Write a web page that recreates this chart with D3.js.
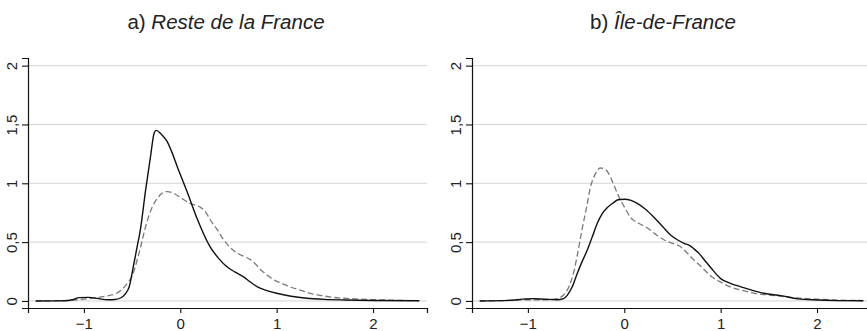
<!DOCTYPE html>
<html>
  <head>
    <meta charset="utf-8">
    <title>Densites</title>
    <script type="text/javascript" src="https://d3js.org/d3.v7.min.js"></script>
    <style type="text/css">
      body { margin: 0; background: white; }
      svg text { font-family: "Liberation Sans", Arial, Helvetica, sans-serif; fill: #222; }
    </style>
  </head>
  <body>
    <script type="text/javascript">
    // x positions and density values
    var leftSolidX = [-1.5, -1.2, -1.12, -1.05, -0.95, -0.85, -0.75, -0.68, -0.62, -0.57, -0.53, -0.49, -0.45, -0.415, -0.36, -0.31, -0.27, -0.25, -0.2, -0.14, -0.08, -0.035, 0.07, 0.17, 0.31, 0.4, 0.485, 0.57, 0.657, 0.72, 0.8, 0.9, 1.0, 1.15, 1.31, 1.5, 1.71, 2.0, 2.48];
    var leftSolidY = [0, 0.002, 0.01, 0.028, 0.03, 0.02, 0.01, 0.012, 0.025, 0.06, 0.12, 0.28, 0.45, 0.6, 0.94, 1.22, 1.43, 1.45, 1.42, 1.36, 1.25, 1.15, 0.93, 0.71, 0.46, 0.36, 0.29, 0.245, 0.205, 0.165, 0.12, 0.088, 0.065, 0.04, 0.023, 0.013, 0.008, 0.004, 0.001];

    var leftDashX = [-1.5, -1.2, -1.1, -1.0, -0.9, -0.83, -0.73, -0.66, -0.59, -0.55, -0.5, -0.43, -0.35, -0.29, -0.24, -0.19, -0.14, -0.08, 0.0, 0.1, 0.2, 0.26, 0.31, 0.38, 0.45, 0.55, 0.63, 0.7, 0.76, 0.83, 0.9, 0.97, 1.05, 1.14, 1.25, 1.35, 1.47, 1.59, 1.75, 2.0, 2.2, 2.48];
    var leftDashY = [0, 0.003, 0.008, 0.015, 0.025, 0.033, 0.048, 0.065, 0.11, 0.15, 0.21, 0.4, 0.66, 0.8, 0.87, 0.915, 0.93, 0.92, 0.88, 0.83, 0.8, 0.76, 0.69, 0.61, 0.52, 0.43, 0.39, 0.365, 0.33, 0.27, 0.22, 0.18, 0.15, 0.12, 0.09, 0.065, 0.045, 0.03, 0.02, 0.012, 0.006, 0.002];

    var rightSolidX = [-1.5, -1.2, -1.05, -0.94, -0.82, -0.7, -0.63, -0.59, -0.54, -0.49, -0.44, -0.385, -0.33, -0.28, -0.23, -0.18, -0.12, -0.066, 0.0, 0.07, 0.135, 0.22, 0.31, 0.4, 0.48, 0.55, 0.62, 0.68, 0.72, 0.78, 0.83, 0.9, 1.0, 1.1, 1.21, 1.33, 1.45, 1.625, 1.8, 2.0, 2.2, 2.48];
    var rightSolidY = [0, 0.005, 0.015, 0.02, 0.015, 0.01, 0.02, 0.05, 0.12, 0.23, 0.33, 0.43, 0.55, 0.66, 0.74, 0.79, 0.83, 0.86, 0.865, 0.855, 0.83, 0.78, 0.71, 0.63, 0.56, 0.52, 0.49, 0.47, 0.445, 0.4, 0.35, 0.28, 0.19, 0.15, 0.12, 0.09, 0.065, 0.045, 0.018, 0.008, 0.003, 0.001];

    var rightDashX = [-1.5, -1.2, -1.0, -0.8, -0.7, -0.63, -0.57, -0.52, -0.48, -0.44, -0.39, -0.35, -0.3, -0.25, -0.2, -0.16, -0.11, -0.07, 0.0, 0.065, 0.15, 0.24, 0.32, 0.41, 0.5, 0.585, 0.65, 0.72, 0.8, 0.9, 1.0, 1.1, 1.22, 1.35, 1.5, 1.62, 1.8, 2.0, 2.2, 2.48];
    var rightDashY = [0, 0.004, 0.01, 0.01, 0.02, 0.05, 0.13, 0.26, 0.42, 0.6, 0.8, 0.97, 1.08, 1.13, 1.12, 1.08, 0.99, 0.91, 0.8, 0.71, 0.66, 0.62, 0.57, 0.52, 0.49, 0.46, 0.41, 0.35, 0.29, 0.21, 0.16, 0.12, 0.09, 0.065, 0.05, 0.04, 0.025, 0.015, 0.008, 0.003];

    var xTicks = [-1, 0, 1, 2];
    var yTicks = [0, 0.5, 1, 1.5, 2];
    var yTickLabels = ["0", "0,5", "1", "1,5", "2"];

    var panels = [
      {prefix: "a) ", name: "Reste de la France", left: 28, titleX: 226,
       solidX: leftSolidX, solidY: leftSolidY, dashX: leftDashX, dashY: leftDashY},
      {prefix: "b) ", name: "Île-de-France", left: 472, titleX: 663,
       solidX: rightSolidX, solidY: rightSolidY, dashX: rightDashX, dashY: rightDashY}
    ];

    var width = 867;
    var height = 331;
    var plotWidth = 399;

    var svg = d3.select("body")
                .append("svg")
                .attr("width", width)
                .attr("height", height);

    // y scale shared by both panels
    var yScale = d3.scaleLinear()
                   .domain([-0.06, 2.065])
                   .range([308, 58]);

    panels.forEach(function(p) {
      var xScale = d3.scaleLinear()
                     .domain([-1.58, 2.56])
                     .range([p.left, p.left + plotWidth]);

      var g = svg.append("g");

      // horizontal grid lines
      g.selectAll("line.grid")
       .data(yTicks)
       .enter()
       .append("line")
       .attr("class", "grid")
       .attr("x1", p.left)
       .attr("x2", p.left + plotWidth)
       .attr("y1", function(d) { return yScale(d); })
       .attr("y2", function(d) { return yScale(d); })
       .attr("stroke", "#d4d4d4")
       .attr("stroke-width", 1);

      // y axis with rotated labels
      var yAxis = d3.axisLeft(yScale)
                    .tickValues(yTicks)
                    .tickSize(6)
                    .tickFormat(function(d, i) { return yTickLabels[i]; });
      var ya = g.append("g")
                .attr("transform", "translate(" + p.left + ",0)")
                .call(yAxis);
      ya.select(".domain").attr("stroke", "#111").attr("stroke-width", 1.2);
      ya.selectAll(".tick line").attr("stroke", "#111").attr("stroke-width", 1.1);
      ya.selectAll("text")
        .attr("x", 0)
        .attr("y", -11)
        .attr("dy", 0)
        .attr("transform", "rotate(-90)")
        .style("text-anchor", "middle")
        .style("font-size", "15px")
        .style("font-family", "'Liberation Sans', Arial, sans-serif")
        .attr("fill", "#222");

      // x axis
      var xAxis = d3.axisBottom(xScale)
                    .tickValues(xTicks)
                    .tickSize(5)
                    .tickPadding(5)
                    .tickFormat(function(d) { return d < 0 ? "\u2212" + Math.abs(d) : d; });
      var xa = g.append("g")
                .attr("transform", "translate(0,308)")
                .call(xAxis);
      xa.select(".domain").attr("stroke", "#111").attr("stroke-width", 1.2);
      xa.selectAll(".tick line").attr("stroke", "#111").attr("stroke-width", 1.1);
      xa.selectAll("text")
        .style("font-size", "15px")
        .style("font-family", "'Liberation Sans', Arial, sans-serif")
        .attr("fill", "#222");

      // density curves
      var line = d3.line()
                   .x(function(d) { return xScale(d[0]); })
                   .y(function(d) { return yScale(d[1]); })
                   .curve(d3.curveMonotoneX);

      g.append("path")
       .datum(d3.zip(p.dashX, p.dashY))
       .attr("d", line)
       .attr("fill", "none")
       .attr("stroke", "#7a7a7a")
       .attr("stroke-width", 1.3)
       .attr("stroke-dasharray", "6,3");

      g.append("path")
       .datum(d3.zip(p.solidX, p.solidY))
       .attr("d", line)
       .attr("fill", "none")
       .attr("stroke", "#111")
       .attr("stroke-width", 1.4);

      // panel title
      var t = svg.append("text")
                 .attr("x", p.titleX)
                 .attr("y", 29)
                 .attr("text-anchor", "middle")
                 .style("font-size", "20.5px");
      t.append("tspan").text(p.prefix);
      t.append("tspan").style("font-style", "italic").text(p.name);
    });
    </script>
  </body>
</html>
